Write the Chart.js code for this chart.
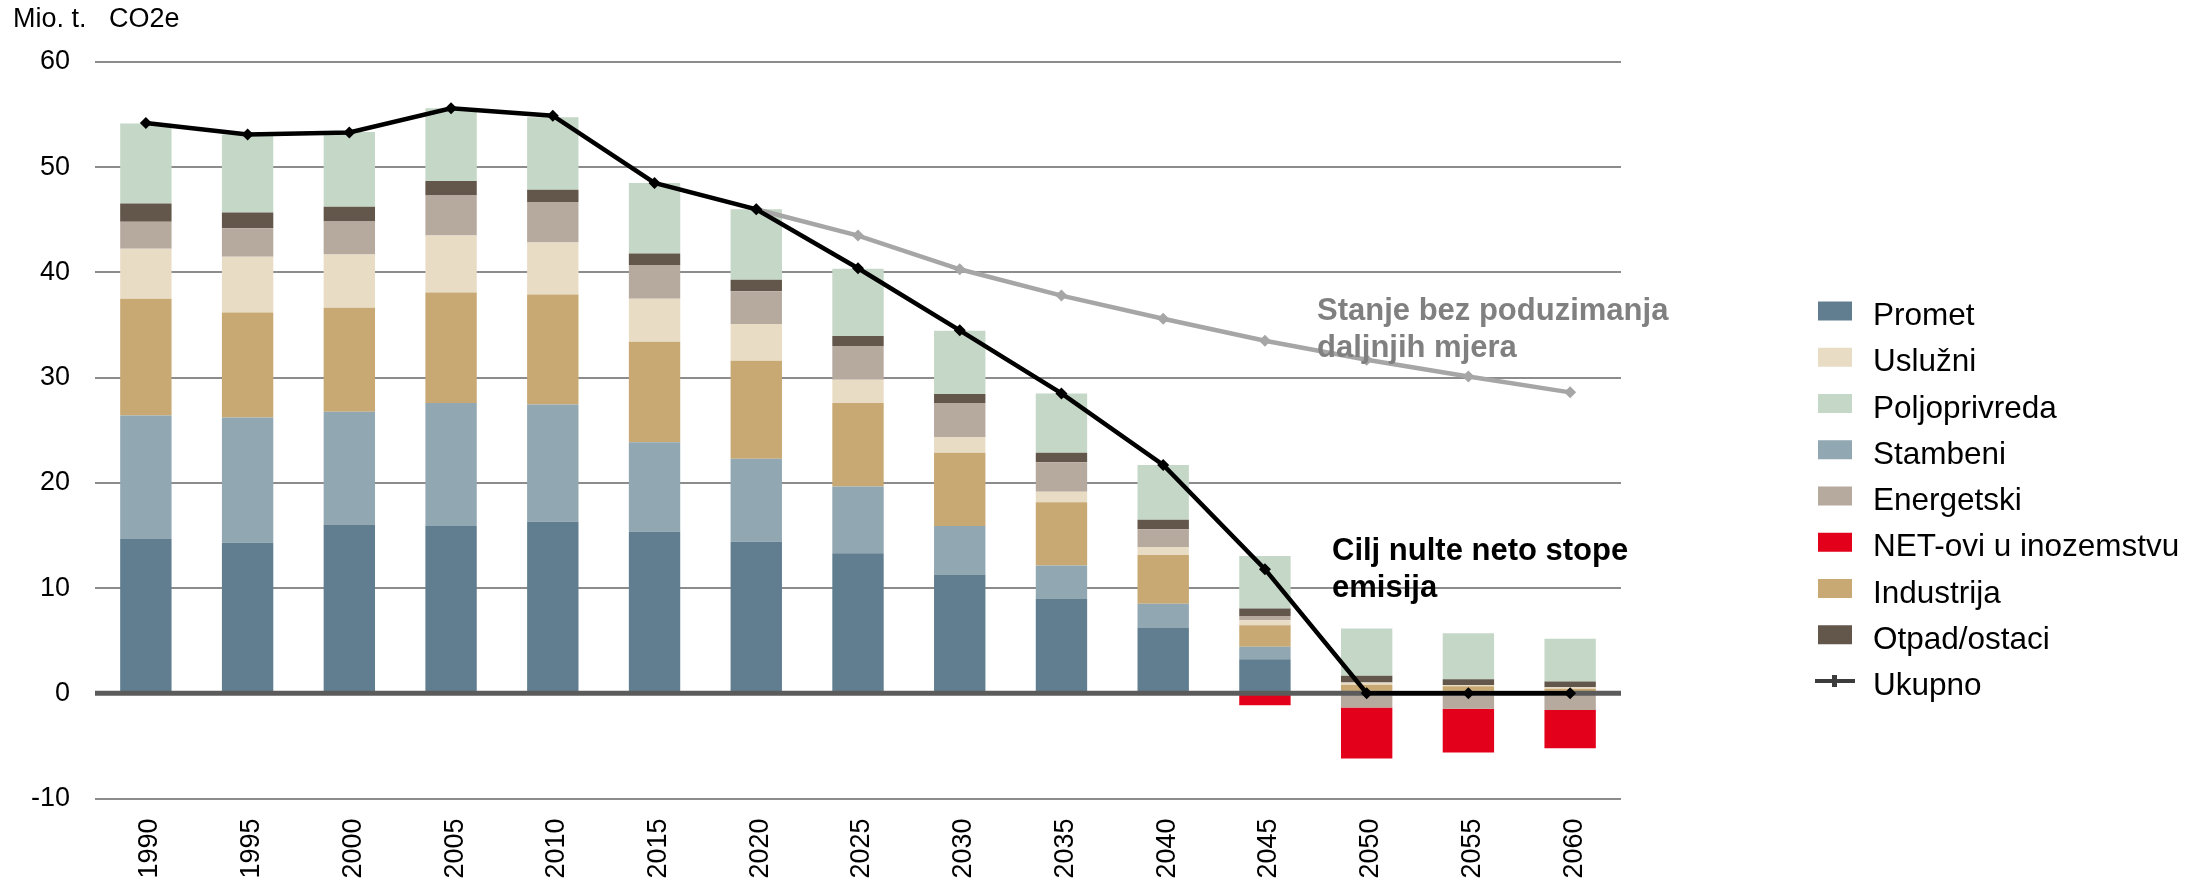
<!DOCTYPE html>
<html>
<head>
<meta charset="utf-8">
<script src="https://cdn.jsdelivr.net/npm/chart.js@4.4.1/dist/chart.umd.min.js"></script>
<style>
  html, body { margin: 0; padding: 0; background: #fff; }
  .wrap { position: relative; width: 2212px; height: 880px; }
</style>
</head>
<body>
<div class="wrap"><canvas id="emisijeChart"></canvas></div>
<script>
const godine = ["1990", "1995", "2000", "2005", "2010", "2015", "2020", "2025", "2030", "2035", "2040", "2045", "2050", "2055", "2060"];

// sektori, Mio. t. CO2e
const promet = [14.7, 14.3, 16.05, 15.9, 16.3, 15.35, 14.4, 13.3, 11.3, 8.95, 6.25, 3.23, 0.1, 0.05, 0.05];
const stambeni = [11.7, 11.9, 10.7, 11.7, 11.15, 8.5, 7.9, 6.35, 4.6, 3.2, 2.25, 1.2, 0.1, 0.05, 0.05];
const industrija = [11.1, 10.0, 9.9, 10.5, 10.45, 9.55, 9.3, 7.95, 6.95, 6.0, 4.65, 2.03, 0.6, 0.56, 0.34];
const usluzni = [4.75, 5.3, 5.05, 5.4, 4.95, 4.1, 3.5, 2.2, 1.5, 1.0, 0.75, 0.47, 0.22, 0.13, 0.13];
const energetski = [2.57, 2.7, 3.15, 3.8, 3.85, 3.2, 3.1, 3.2, 3.25, 2.8, 1.7, 0.41, -1.36, -1.46, -1.58];
const otpad = [1.74, 1.5, 1.4, 1.4, 1.15, 1.1, 1.1, 0.95, 0.85, 0.9, 0.9, 0.73, 0.64, 0.54, 0.54];
const poljoprivreda = [7.6, 7.4, 7.1, 6.9, 6.9, 6.7, 6.7, 6.4, 6.0, 5.65, 5.2, 4.97, 4.49, 4.37, 4.08];
const netInozemstvo = [0, 0, 0, 0, 0, 0, 0, 0, 0, 0, 0, -1.14, -4.84, -4.17, -3.64];

const ukupno = [54.2, 53.1, 53.3, 55.6, 54.9, 48.5, 46.0, 40.4, 34.5, 28.5, 21.7, 11.8, 0, 0, 0];
const bezMjera = [null, null, null, null, null, null, 46.0, 43.5, 40.3, 37.8, 35.6, 33.5, 31.7, 30.1, 28.6];

const yTicks = [-10, 0, 10, 20, 30, 40, 50, 60];

const legendRed = ["Promet", "Uslužni", "Poljoprivreda", "Stambeni", "Energetski", "NET-ovi u inozemstvu", "Industrija", "Otpad/ostaci", "Ukupno"];

const FONT = "'Liberation Sans', Arial, sans-serif";
Chart.defaults.font.family = FONT;

function stupac(label, data, color) {
  return {
    type: "bar",
    label: label,
    data: data,
    backgroundColor: color,
    borderWidth: 0,
    barPercentage: 0.505,
    categoryPercentage: 1,
    stack: "sektori",
    order: 1,
  };
}

const crtezPlugin = {
  id: "crtez",
  afterDatasetDraw(chart, args) {
    // Promet is the last bar drawn, the zero line goes over the bars but under the lines
    if (args.index !== 0) return;
    const ctx = chart.ctx;
    const y = chart.scales.y.getPixelForValue(0);
    ctx.save();
    ctx.strokeStyle = "#5b5b5b";
    ctx.lineWidth = 5;
    ctx.beginPath();
    ctx.moveTo(chart.chartArea.left, y);
    ctx.lineTo(chart.chartArea.right, y);
    ctx.stroke();
    ctx.restore();
  },
  afterDraw(chart) {
    const ctx = chart.ctx;
    ctx.save();

    // jedinica
    ctx.fillStyle = "#000";
    ctx.font = `27px ${FONT}`;
    ctx.textBaseline = "alphabetic";
    ctx.fillText("Mio. t.   CO2e", 13, 27);

    // bilješke
    ctx.font = `bold 31px ${FONT}`;
    ctx.fillStyle = "#808080";
    ctx.fillText("Stanje bez poduzimanja", 1317, 320);
    ctx.fillText("daljnjih mjera", 1317, 357);
    ctx.fillStyle = "#000";
    ctx.fillText("Cilj nulte neto stope", 1332, 560);
    ctx.fillText("emisija", 1332, 597);

    // legenda
    ctx.font = `31.5px ${FONT}`;
    legendRed.forEach((naziv, i) => {
      const ds = chart.data.datasets.find((d) => d.label === naziv);
      const cy = 311 + i * 46.25;
      if (ds.type === "line") {
        ctx.strokeStyle = "#3c3c3c";
        ctx.lineWidth = 4;
        ctx.beginPath();
        ctx.moveTo(1815, cy);
        ctx.lineTo(1855, cy);
        ctx.stroke();
        ctx.fillStyle = "#3c3c3c";
        ctx.fillRect(1832, cy - 6, 5, 12);
      } else {
        ctx.fillStyle = ds.backgroundColor;
        ctx.fillRect(1818, cy - 9.5, 34, 19);
      }
      ctx.fillStyle = "#000";
      ctx.fillText(naziv, 1873, cy + 14);
    });

    ctx.restore();
  },
};

const ctx = document.getElementById("emisijeChart").getContext("2d");

new Chart(ctx, {
  type: "bar",
  data: {
    labels: godine,
    datasets: [
      stupac("Promet", promet, "#607e8f"),
      stupac("Stambeni", stambeni, "#91a7b2"),
      stupac("Industrija", industrija, "#c8a873"),
      stupac("Uslužni", usluzni, "#e9dcc5"),
      stupac("Energetski", energetski, "#b6aa9f"),
      stupac("Otpad/ostaci", otpad, "#62574a"),
      stupac("Poljoprivreda", poljoprivreda, "#c5d7c7"),
      stupac("NET-ovi u inozemstvu", netInozemstvo, "#e3001b"),
      {
        type: "line",
        label: "Ukupno",
        data: ukupno,
        borderColor: "#000",
        backgroundColor: "#000",
        borderWidth: 4.5,
        pointStyle: "rectRot",
        pointRadius: 6,
        pointBorderWidth: 0,
        pointBackgroundColor: "#000",
        tension: 0,
        stack: "ukupno",
        order: 0,
      },
      {
        type: "line",
        label: "Stanje bez poduzimanja daljnjih mjera",
        data: bezMjera,
        borderColor: "#a6a6a6",
        backgroundColor: "#a6a6a6",
        borderWidth: 4.5,
        pointStyle: "rectRot",
        pointRadius: 6,
        pointBorderWidth: 0,
        pointBackgroundColor: "#a6a6a6",
        tension: 0,
        stack: "bezMjera",
        order: 0,
      },
    ],
  },
  options: {
    responsive: true,
    maintainAspectRatio: false,
    animation: false,
    layout: {
      padding: { top: 62, right: 591, bottom: 0, left: 0 },
    },
    plugins: {
      legend: { display: false },
      tooltip: { enabled: false },
    },
    scales: {
      x: {
        stacked: true,
        grid: { display: false, drawTicks: false },
        border: { display: false },
        ticks: {
          color: "#000",
          font: { size: 27 },
          minRotation: 90,
          maxRotation: 90,
          autoSkip: false,
          padding: 20,
          labelOffset: 4,
        },
        afterFit: (scale) => {
          scale.height = 81.5;
        },
      },
      y: {
        stacked: true,
        min: yTicks[0],
        max: yTicks[yTicks.length - 1],
        border: { display: false },
        grid: {
          color: "#8c8c8c",
          lineWidth: 2,
          drawTicks: false,
        },
        ticks: {
          stepSize: yTicks[1] - yTicks[0],
          color: "#000",
          font: { size: 27 },
          padding: 25,
        },
        afterFit: (scale) => {
          scale.width = 95;
        },
      },
    },
  },
  plugins: [crtezPlugin],
});
</script>
</body>
</html>
